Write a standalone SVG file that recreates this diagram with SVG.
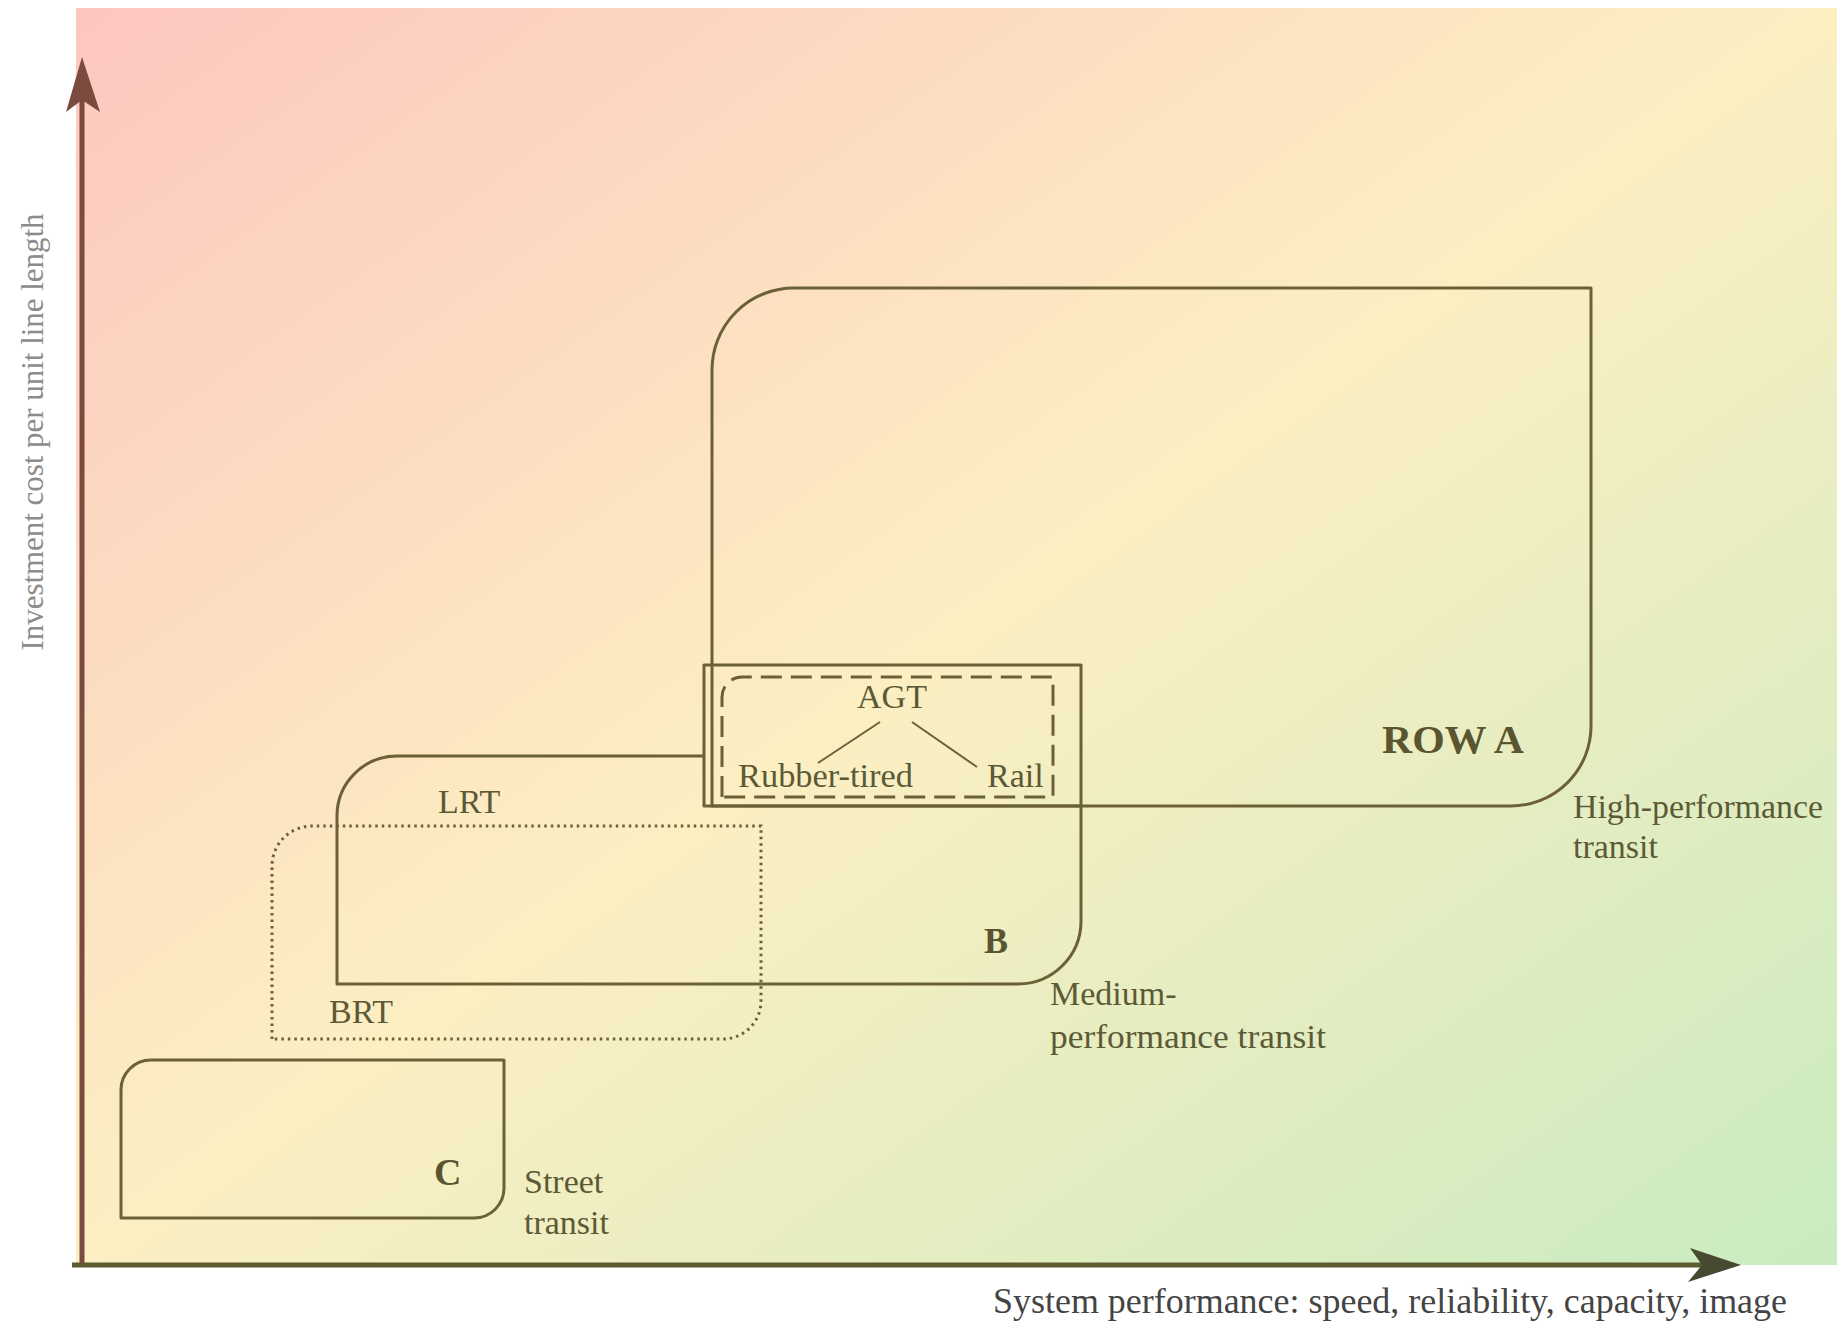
<svg xmlns="http://www.w3.org/2000/svg" width="1837" height="1324" viewBox="0 0 1837 1324">
  <defs>
    <linearGradient id="bg" x1="0" y1="0" x2="1" y2="1">
      <stop offset="0" stop-color="#fdc7c0"/>
      <stop offset="0.5" stop-color="#fcefc2"/>
      <stop offset="1" stop-color="#c9ebc0"/>
    </linearGradient>
  </defs>
  <style>
    .box { fill: none; stroke: #6b6036; stroke-width: 3; stroke-linejoin: round; }
    .dash { fill: none; stroke: #6b6036; stroke-width: 3; stroke-dasharray: 21 9; }
    .dot { fill: none; stroke: #6b6036; stroke-width: 3; stroke-dasharray: 2.5 4; }
    .lbl { font-family: "Liberation Serif", "Times New Roman", serif; font-size: 34px; fill: #5c5a36; }
    .big { font-family: "Liberation Serif", "Times New Roman", serif; font-weight: bold; fill: #5a5530; }
    .axis { font-family: "Liberation Serif", "Times New Roman", serif; }
  </style>
  <rect x="0" y="0" width="1837" height="1324" fill="#ffffff"/>
  <rect x="76" y="8" width="1761" height="1257" fill="url(#bg)"/>

  <g id="connectors">
    <line x1="82" y1="1266" x2="82" y2="96" stroke="#7a4b3e" stroke-width="5"/>
    <polygon points="82,57 100,112 82,100 66,112" fill="#7a4b3e"/>
    <line x1="72" y1="1265" x2="1705" y2="1265" stroke="#5c5a2e" stroke-width="5"/>
    <polygon points="1741,1265 1690,1248 1702,1265 1688,1282" fill="#454a30"/>
    <line x1="880" y1="722" x2="818" y2="763" stroke="#6b6036" stroke-width="2"/>
    <line x1="912" y1="722" x2="977" y2="767" stroke="#6b6036" stroke-width="2"/>
  </g>

  <g id="axis-y-label">
    <text class="axis" transform="translate(43,432) rotate(-90)" text-anchor="middle" font-size="31" fill="#8c8c8c" textLength="437" lengthAdjust="spacingAndGlyphs">Investment cost per unit line length</text>
  </g>
  <g id="axis-x-label">
    <text class="axis" x="993" y="1313" font-size="35" fill="#444444" textLength="794" lengthAdjust="spacingAndGlyphs">System performance: speed, reliability, capacity, image</text>
  </g>

  <g id="row-a">
    <path class="box" d="M712,806 V370 A82,82 0 0 1 794,288 H1591 V726 A80,80 0 0 1 1511,806 Z"/>
    <text class="big" x="1382" y="753" font-size="40" textLength="142" lengthAdjust="spacingAndGlyphs">ROW A</text>
    <text class="lbl" x="1573" y="818" textLength="250" lengthAdjust="spacingAndGlyphs">High-performance</text>
    <text class="lbl" x="1573" y="858">transit</text>
  </g>

  <g id="b">
    <path class="box" d="M704,756 H397 A60,60 0 0 0 337,816 V984 H1018 A63,63 0 0 0 1081,921 V806"/>
    <text class="big" x="984" y="953" font-size="36">B</text>
    <text class="lbl" x="1050" y="1005">Medium-</text>
    <text class="lbl" x="1050" y="1048" textLength="276" lengthAdjust="spacingAndGlyphs">performance transit</text>
    <text class="lbl" x="438" y="813" font-size="35">LRT</text>
  </g>

  <g id="agt">
    <rect class="box" x="704" y="665" width="377" height="141"/>
    <path class="dash" d="M722,797 V697 A20,20 0 0 1 742,677 H1053 V797 Z"/>
    <text class="lbl" x="892" y="708" text-anchor="middle">AGT</text>
    <text class="lbl" x="738" y="787" textLength="175" lengthAdjust="spacingAndGlyphs">Rubber-tired</text>
    <text class="lbl" x="987" y="787">Rail</text>
  </g>

  <g id="brt">
    <path class="dot" d="M272,1039 V866 A40,40 0 0 1 312,826 H761 V1001 A38,38 0 0 1 723,1039 Z"/>
    <text class="lbl" x="329" y="1023" font-size="35">BRT</text>
  </g>

  <g id="c">
    <path class="box" d="M121,1218 V1090 A30,30 0 0 1 151,1060 H504 V1188 A30,30 0 0 1 474,1218 Z"/>
    <text class="big" x="434" y="1185" font-size="38">C</text>
    <text class="lbl" x="524" y="1193">Street</text>
    <text class="lbl" x="524" y="1234">transit</text>
  </g>
</svg>
